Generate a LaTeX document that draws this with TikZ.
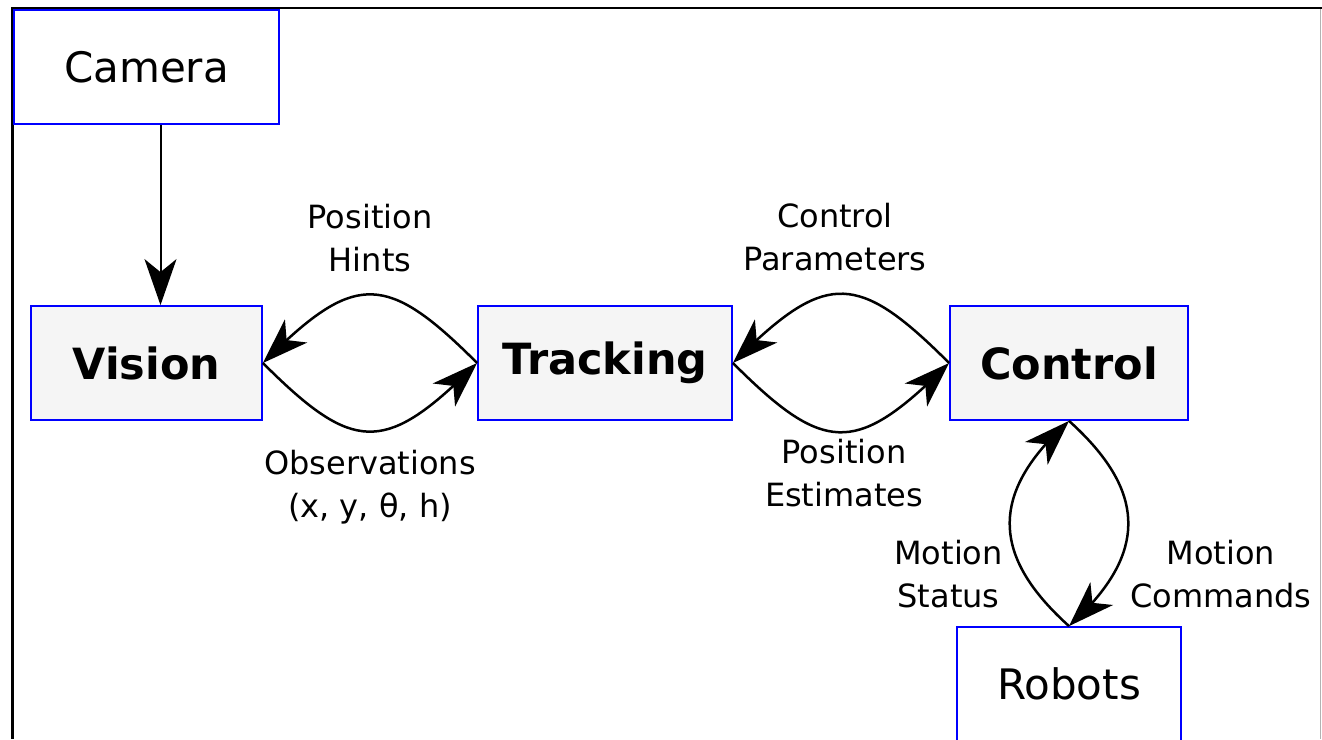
\documentclass[tikz,border=0pt]{standalone}
\usepackage{fontspec}
\setmainfont{DejaVu Sans}
\usetikzlibrary{arrows.meta, bending}

\begin{document}
\begin{tikzpicture}
	\tikzstyle{block} = [rectangle, draw=blue, line width=1.8pt, fill=white,
	minimum height=114pt, font=\fontsize{42}{50}\selectfont]
	\tikzstyle{stage} = [block, fill=gray!8, font=\fontsize{43}{50}\selectfont\bfseries]
	\tikzstyle{link} = [draw, line width=2.5pt, -{Stealth[length=46pt, width=32pt, inset=13pt, flex]}]
	\tikzstyle{lbl} = [inner sep=0pt, align=center, font=\fontsize{32}{43}\selectfont]
	\useasboundingbox (0,0) rectangle (1322pt,-739pt);
	% Frame
	\draw [line width=2.5pt] (1322pt,-8pt) -- (12.5pt,-8pt) -- (12.5pt,-739pt);
	\draw [gray!60, line width=1.2pt] (1320.5pt,-9pt) -- (1320.5pt,-739pt);
	% Place nodes
	\node [block, minimum width=265pt] (camera) at (146.5pt,-67pt) {Camera};
	\node [stage, minimum width=231pt, node distance=296pt, below of=camera] (vision) {Vision};
	\node [stage, minimum width=254pt, node distance=458.5pt, right of=vision] (tracking) {Tracking};
	\node [stage, minimum width=238pt, node distance=464pt, right of=tracking] (control) {Control};
	\node [block, minimum width=224pt, node distance=321pt, below of=control] (robots) {Robots};
	% Draw edges
	\path [link, line width=2pt] ([xshift=14pt]camera.south) -- ([xshift=14pt]vision.north);
	\path [link] (tracking.west) to[bend right=45, looseness=1.55]
		node [lbl, midway, above=21pt] {Position\\Hints} (vision.east);
	\path [link] (vision.east) to[bend right=45, looseness=1.55]
		node [lbl, midway, below=17pt] {Observations\\(x, y, θ, h)} (tracking.west);
	\path [link] (control.west) to[bend right=45, looseness=1.55]
		node [lbl, midway, above=21pt, xshift=-6pt] {Control\\Parameters} (tracking.east);
	\path [link] (tracking.east) to[bend right=45, looseness=1.55]
		node [lbl, midway, below=6pt, xshift=3pt] {Position\\Estimates} (control.west);
	\path [link] (robots.north) to[bend left=48, looseness=1.33] (control.south);
	\path [link] (control.south) to[bend left=48, looseness=1.33] (robots.north);
	% Labels of the robot links
	\node [lbl, anchor=south east] (status) at ([xshift=-66pt, yshift=18pt]robots.north) {Motion\\Status};
	\node [lbl, anchor=south west] (commands) at ([xshift=61pt, yshift=18pt]robots.north) {Motion\\Commands};
\end{tikzpicture}
\end{document}
